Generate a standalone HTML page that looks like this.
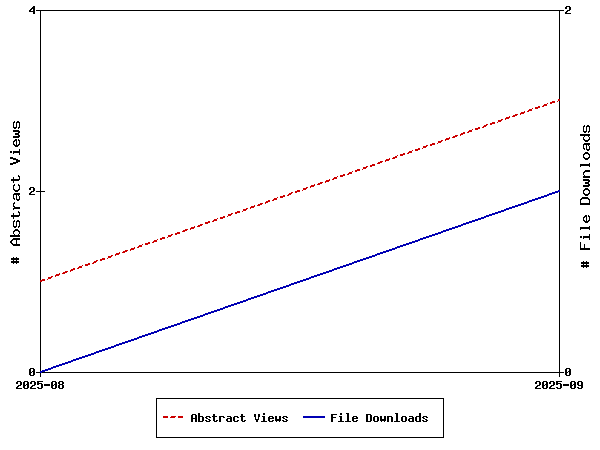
<!DOCTYPE html>
<html lang="en">
<head>
<meta charset="utf-8">
<title>Abstract Views / File Downloads</title>
<style>
  html, body { margin: 0; padding: 0; background: #ffffff; }
  body { width: 600px; height: 450px; overflow: hidden; font-family: "Liberation Mono", monospace; }
  svg { display: block; shape-rendering: crispEdges; }
</style>
</head>
<body>
<svg width="600" height="450" viewBox="0 0 600 450" role="img" aria-label="Line chart of Abstract Views and File Downloads from 2025-08 to 2025-09">
  <rect x="0" y="0" width="600" height="450" fill="#ffffff"/>
  <!-- plot frame, axes and tick marks -->
  <path fill="#000000" d="M36 10h528v1h-528zM40 11h1v180h-1zM559 11h1v361h-1zM36 191h9v1h-9zM40 192h1v180h-1zM36 372h528v1h-528zM40 373h1v4h-1zM559 373h1v4h-1z"/>
  <!-- series: Abstract Views (dashed) -->
  <path fill="#cc0000" d="M558 99h2v2h-2zM552 101h3v1h-3zM557 101h1v1h-1zM550 102h5v1h-5zM547 103h1v1h-1zM550 103h2v1h-2zM544 104h3v1h-3zM543 105h4v1h-4zM538 106h2v1h-2zM542 106h2v1h-2zM535 107h5v1h-5zM532 108h1v1h-1zM535 108h3v1h-3zM529 109h3v1h-3zM528 110h4v1h-4zM524 111h1v1h-1zM527 111h2v1h-2zM521 112h4v1h-4zM520 113h4v1h-4zM515 114h3v1h-3zM520 114h1v1h-1zM513 115h4v1h-4zM509 116h1v1h-1zM512 116h3v1h-3zM506 117h4v1h-4zM505 118h4v1h-4zM501 119h2v1h-2zM505 119h1v1h-1zM498 120h4v1h-4zM498 121h3v1h-3zM492 122h3v1h-3zM497 122h1v1h-1zM490 123h5v1h-5zM486 124h2v1h-2zM490 124h2v1h-2zM484 125h3v1h-3zM483 126h3v1h-3zM478 127h2v1h-2zM482 127h2v1h-2zM475 128h5v1h-5zM472 129h1v1h-1zM475 129h3v1h-3zM469 130h3v1h-3zM468 131h4v1h-4zM463 132h2v1h-2zM467 132h2v1h-2zM461 133h4v1h-4zM460 134h3v1h-3zM455 135h3v1h-3zM460 135h1v1h-1zM453 136h4v1h-4zM449 137h1v1h-1zM452 137h3v1h-3zM446 138h4v1h-4zM445 139h4v1h-4zM441 140h2v1h-2zM445 140h1v1h-1zM438 141h4v1h-4zM438 142h3v1h-3zM432 143h3v1h-3zM437 143h1v1h-1zM430 144h5v1h-5zM426 145h2v1h-2zM430 145h2v1h-2zM423 146h4v1h-4zM423 147h3v1h-3zM418 148h2v1h-2zM422 148h1v1h-1zM415 149h5v1h-5zM412 150h1v1h-1zM415 150h3v1h-3zM409 151h3v1h-3zM408 152h4v1h-4zM403 153h2v1h-2zM407 153h2v1h-2zM400 154h5v1h-5zM397 155h1v1h-1zM400 155h3v1h-3zM395 156h2v1h-2zM393 157h4v1h-4zM389 158h1v1h-1zM392 158h3v1h-3zM386 159h4v1h-4zM385 160h4v1h-4zM380 161h3v1h-3zM385 161h1v1h-1zM378 162h4v1h-4zM377 163h3v1h-3zM372 164h3v1h-3zM370 165h5v1h-5zM366 166h2v1h-2zM370 166h2v1h-2zM363 167h4v1h-4zM363 168h3v1h-3zM357 169h3v1h-3zM362 169h1v1h-1zM355 170h5v1h-5zM352 171h1v1h-1zM355 171h2v1h-2zM349 172h3v1h-3zM348 173h4v1h-4zM343 174h2v1h-2zM347 174h2v1h-2zM340 175h5v1h-5zM337 176h1v1h-1zM340 176h3v1h-3zM334 177h3v1h-3zM333 178h4v1h-4zM329 179h1v1h-1zM332 179h2v1h-2zM326 180h4v1h-4zM325 181h4v1h-4zM320 182h3v1h-3zM325 182h1v1h-1zM318 183h4v1h-4zM314 184h1v1h-1zM317 184h3v1h-3zM311 185h4v1h-4zM310 186h4v1h-4zM306 187h2v1h-2zM310 187h1v1h-1zM303 188h4v1h-4zM303 189h3v1h-3zM297 190h3v1h-3zM302 190h1v1h-1zM295 191h5v1h-5zM291 192h2v1h-2zM295 192h2v1h-2zM289 193h3v1h-3zM288 194h3v1h-3zM283 195h2v1h-2zM287 195h2v1h-2zM280 196h5v1h-5zM277 197h1v1h-1zM280 197h3v1h-3zM274 198h3v1h-3zM273 199h4v1h-4zM268 200h2v1h-2zM272 200h2v1h-2zM266 201h4v1h-4zM265 202h3v1h-3zM260 203h3v1h-3zM265 203h1v1h-1zM258 204h4v1h-4zM254 205h1v1h-1zM257 205h3v1h-3zM251 206h4v1h-4zM250 207h4v1h-4zM246 208h2v1h-2zM250 208h1v1h-1zM243 209h4v1h-4zM243 210h3v1h-3zM237 211h3v1h-3zM242 211h1v1h-1zM235 212h5v1h-5zM231 213h2v1h-2zM235 213h2v1h-2zM228 214h4v1h-4zM228 215h3v1h-3zM223 216h2v1h-2zM227 216h1v1h-1zM220 217h5v1h-5zM217 218h1v1h-1zM220 218h3v1h-3zM214 219h3v1h-3zM213 220h4v1h-4zM208 221h2v1h-2zM212 221h2v1h-2zM205 222h5v1h-5zM205 223h3v1h-3zM200 224h3v1h-3zM198 225h4v1h-4zM194 226h1v1h-1zM197 226h3v1h-3zM191 227h4v1h-4zM190 228h4v1h-4zM185 229h3v1h-3zM190 229h1v1h-1zM183 230h4v1h-4zM182 231h3v1h-3zM177 232h3v1h-3zM175 233h5v1h-5zM171 234h2v1h-2zM175 234h2v1h-2zM168 235h4v1h-4zM168 236h3v1h-3zM162 237h3v1h-3zM167 237h1v1h-1zM160 238h5v1h-5zM157 239h1v1h-1zM160 239h2v1h-2zM154 240h3v1h-3zM153 241h4v1h-4zM148 242h2v1h-2zM152 242h2v1h-2zM145 243h5v1h-5zM142 244h1v1h-1zM145 244h3v1h-3zM139 245h3v1h-3zM138 246h4v1h-4zM134 247h1v1h-1zM137 247h2v1h-2zM131 248h4v1h-4zM130 249h4v1h-4zM125 250h3v1h-3zM130 250h1v1h-1zM123 251h4v1h-4zM119 252h1v1h-1zM122 252h3v1h-3zM116 253h4v1h-4zM115 254h4v1h-4zM111 255h2v1h-2zM115 255h1v1h-1zM108 256h4v1h-4zM108 257h3v1h-3zM102 258h3v1h-3zM107 258h1v1h-1zM100 259h5v1h-5zM96 260h2v1h-2zM100 260h2v1h-2zM94 261h3v1h-3zM93 262h3v1h-3zM88 263h2v1h-2zM92 263h2v1h-2zM85 264h5v1h-5zM82 265h1v1h-1zM85 265h3v1h-3zM79 266h3v1h-3zM78 267h4v1h-4zM73 268h2v1h-2zM77 268h2v1h-2zM71 269h4v1h-4zM70 270h3v1h-3zM65 271h3v1h-3zM70 271h1v1h-1zM63 272h4v1h-4zM59 273h1v1h-1zM62 273h3v1h-3zM56 274h4v1h-4zM55 275h4v1h-4zM51 276h2v1h-2zM55 276h1v1h-1zM48 277h4v1h-4zM48 278h3v1h-3zM42 279h3v1h-3zM47 279h1v1h-1zM40 280h5v1h-5zM40 281h2v1h-2z"/>
  <!-- series: File Downloads -->
  <path fill="#0000b4" d="M558 190h2v1h-2zM555 191h5v1h-5zM552 192h6v1h-6zM549 193h6v1h-6zM547 194h5v1h-5zM544 195h5v1h-5zM541 196h6v1h-6zM538 197h6v1h-6zM535 198h6v1h-6zM532 199h6v1h-6zM529 200h6v1h-6zM527 201h5v1h-5zM524 202h5v1h-5zM521 203h6v1h-6zM518 204h6v1h-6zM515 205h6v1h-6zM512 206h6v1h-6zM509 207h6v1h-6zM506 208h6v1h-6zM504 209h5v1h-5zM501 210h5v1h-5zM498 211h6v1h-6zM495 212h6v1h-6zM492 213h6v1h-6zM489 214h6v1h-6zM486 215h6v1h-6zM484 216h5v1h-5zM481 217h5v1h-5zM478 218h6v1h-6zM475 219h6v1h-6zM472 220h6v1h-6zM469 221h6v1h-6zM466 222h6v1h-6zM463 223h6v1h-6zM461 224h5v1h-5zM458 225h5v1h-5zM455 226h6v1h-6zM452 227h6v1h-6zM449 228h6v1h-6zM446 229h6v1h-6zM443 230h6v1h-6zM441 231h5v1h-5zM438 232h5v1h-5zM435 233h6v1h-6zM432 234h6v1h-6zM429 235h6v1h-6zM426 236h6v1h-6zM423 237h6v1h-6zM420 238h6v1h-6zM418 239h5v1h-5zM415 240h5v1h-5zM412 241h6v1h-6zM409 242h6v1h-6zM406 243h6v1h-6zM403 244h6v1h-6zM400 245h6v1h-6zM397 246h6v1h-6zM395 247h5v1h-5zM392 248h5v1h-5zM389 249h6v1h-6zM386 250h6v1h-6zM383 251h6v1h-6zM380 252h6v1h-6zM377 253h6v1h-6zM375 254h5v1h-5zM372 255h5v1h-5zM369 256h6v1h-6zM366 257h6v1h-6zM363 258h6v1h-6zM360 259h6v1h-6zM357 260h6v1h-6zM354 261h6v1h-6zM352 262h5v1h-5zM349 263h5v1h-5zM346 264h6v1h-6zM343 265h6v1h-6zM340 266h6v1h-6zM337 267h6v1h-6zM334 268h6v1h-6zM332 269h5v1h-5zM329 270h5v1h-5zM326 271h6v1h-6zM323 272h6v1h-6zM320 273h6v1h-6zM317 274h6v1h-6zM314 275h6v1h-6zM311 276h6v1h-6zM309 277h5v1h-5zM306 278h5v1h-5zM303 279h6v1h-6zM300 280h6v1h-6zM297 281h6v1h-6zM294 282h6v1h-6zM291 283h6v1h-6zM289 284h5v1h-5zM286 285h5v1h-5zM283 286h6v1h-6zM280 287h6v1h-6zM277 288h6v1h-6zM274 289h6v1h-6zM271 290h6v1h-6zM268 291h6v1h-6zM266 292h5v1h-5zM263 293h5v1h-5zM260 294h6v1h-6zM257 295h6v1h-6zM254 296h6v1h-6zM251 297h6v1h-6zM248 298h6v1h-6zM246 299h5v1h-5zM243 300h5v1h-5zM240 301h6v1h-6zM237 302h6v1h-6zM234 303h6v1h-6zM231 304h6v1h-6zM228 305h6v1h-6zM225 306h6v1h-6zM223 307h5v1h-5zM220 308h5v1h-5zM217 309h6v1h-6zM214 310h6v1h-6zM211 311h6v1h-6zM208 312h6v1h-6zM205 313h6v1h-6zM203 314h5v1h-5zM200 315h5v1h-5zM197 316h6v1h-6zM194 317h6v1h-6zM191 318h6v1h-6zM188 319h6v1h-6zM185 320h6v1h-6zM182 321h6v1h-6zM180 322h5v1h-5zM177 323h5v1h-5zM174 324h6v1h-6zM171 325h6v1h-6zM168 326h6v1h-6zM165 327h6v1h-6zM162 328h6v1h-6zM159 329h6v1h-6zM157 330h5v1h-5zM154 331h5v1h-5zM151 332h6v1h-6zM148 333h6v1h-6zM145 334h6v1h-6zM142 335h6v1h-6zM139 336h6v1h-6zM137 337h5v1h-5zM134 338h5v1h-5zM131 339h6v1h-6zM128 340h6v1h-6zM125 341h6v1h-6zM122 342h6v1h-6zM119 343h6v1h-6zM116 344h6v1h-6zM114 345h5v1h-5zM111 346h5v1h-5zM108 347h6v1h-6zM105 348h6v1h-6zM102 349h6v1h-6zM99 350h6v1h-6zM96 351h6v1h-6zM94 352h5v1h-5zM91 353h5v1h-5zM88 354h6v1h-6zM85 355h6v1h-6zM82 356h6v1h-6zM79 357h6v1h-6zM76 358h6v1h-6zM73 359h6v1h-6zM71 360h5v1h-5zM68 361h5v1h-5zM65 362h6v1h-6zM62 363h6v1h-6zM59 364h6v1h-6zM56 365h6v1h-6zM53 366h6v1h-6zM51 367h5v1h-5zM48 368h5v1h-5zM45 369h6v1h-6zM42 370h6v1h-6zM40 371h5v1h-5zM40 372h2v1h-2z"/>
  <!-- tick labels: 4 2 0 / 2 0 / 2025-08 2025-09 -->
  <path fill="#000000" d="M33 6h2v1h-2zM566 6h4v1h-4zM32 7h3v1h-3zM565 7h2v2h-2zM569 7h2v3h-2zM31 8h4v1h-4zM30 9h2v1h-2zM33 9h2v2h-2zM29 10h2v1h-2zM567 10h3v1h-3zM29 11h6v1h-6zM566 11h2v1h-2zM33 12h2v2h-2zM565 12h2v1h-2zM565 13h6v1h-6zM30 187h4v1h-4zM29 188h2v2h-2zM33 188h2v3h-2zM31 191h3v1h-3zM30 192h2v1h-2zM29 193h2v1h-2zM29 194h6v1h-6zM30 368h4v1h-4zM566 368h4v1h-4zM29 369h2v3h-2zM33 369h2v2h-2zM565 369h2v3h-2zM569 369h2v2h-2zM32 371h3v1h-3zM568 371h3v1h-3zM29 372h3v1h-3zM33 372h2v3h-2zM565 372h3v1h-3zM569 372h2v3h-2zM29 373h2v2h-2zM565 373h2v2h-2zM30 375h4v1h-4zM566 375h4v1h-4zM17 381h4v1h-4zM24 381h4v1h-4zM31 381h4v1h-4zM37 381h6v1h-6zM52 381h4v1h-4zM59 381h4v1h-4zM536 381h4v1h-4zM543 381h4v1h-4zM550 381h4v1h-4zM556 381h6v1h-6zM571 381h4v1h-4zM578 381h4v1h-4zM16 382h2v2h-2zM20 382h2v3h-2zM23 382h2v3h-2zM27 382h2v2h-2zM30 382h2v2h-2zM34 382h2v3h-2zM37 382h2v1h-2zM51 382h2v3h-2zM55 382h2v2h-2zM58 382h2v2h-2zM62 382h2v2h-2zM535 382h2v2h-2zM539 382h2v3h-2zM542 382h2v3h-2zM546 382h2v2h-2zM549 382h2v2h-2zM553 382h2v3h-2zM556 382h2v1h-2zM570 382h2v3h-2zM574 382h2v2h-2zM577 382h2v3h-2zM581 382h2v3h-2zM37 383h5v1h-5zM556 383h5v1h-5zM26 384h3v1h-3zM37 384h2v1h-2zM41 384h2v4h-2zM44 384h6v2h-6zM54 384h3v1h-3zM59 384h4v1h-4zM545 384h3v1h-3zM556 384h2v1h-2zM560 384h2v4h-2zM563 384h6v2h-6zM573 384h3v1h-3zM18 385h3v1h-3zM23 385h3v1h-3zM27 385h2v3h-2zM32 385h3v1h-3zM51 385h3v1h-3zM55 385h2v3h-2zM58 385h2v3h-2zM62 385h2v3h-2zM537 385h3v1h-3zM542 385h3v1h-3zM546 385h2v3h-2zM551 385h3v1h-3zM570 385h3v1h-3zM574 385h2v3h-2zM578 385h5v1h-5zM17 386h2v1h-2zM23 386h2v2h-2zM31 386h2v1h-2zM51 386h2v2h-2zM536 386h2v1h-2zM542 386h2v2h-2zM550 386h2v1h-2zM570 386h2v2h-2zM581 386h2v2h-2zM16 387h2v1h-2zM30 387h2v1h-2zM37 387h2v1h-2zM535 387h2v1h-2zM549 387h2v1h-2zM556 387h2v1h-2zM577 387h2v1h-2zM16 388h6v1h-6zM24 388h4v1h-4zM30 388h6v1h-6zM38 388h4v1h-4zM52 388h4v1h-4zM59 388h4v1h-4zM535 388h6v1h-6zM543 388h4v1h-4zM549 388h6v1h-6zM557 388h4v1h-4zM571 388h4v1h-4zM578 388h4v1h-4z"/>
  <!-- axis titles: "# Abstract Views" (left), "# File Downloads" (right) -->
  <path fill="#000000" d="M14 121h1v1h-1zM17 121h2v1h-2zM13 122h2v1h-2zM16 122h4v1h-4zM13 123h1v4h-1zM16 123h1v4h-1zM19 123h1v4h-1zM584 125h1v1h-1zM587 125h2v1h-2zM583 126h2v1h-2zM586 126h4v1h-4zM13 127h4v1h-4zM18 127h2v1h-2zM583 127h1v4h-1zM586 127h1v4h-1zM589 127h1v4h-1zM14 128h2v1h-2zM18 128h1v1h-1zM13 130h6v1h-6zM13 131h7v1h-7zM583 131h4v1h-4zM588 131h2v1h-2zM18 132h2v1h-2zM584 132h2v1h-2zM588 132h1v1h-1zM15 133h4v2h-4zM580 134h10v2h-10zM18 135h2v1h-2zM13 136h7v1h-7zM584 136h1v1h-1zM588 136h1v1h-1zM13 137h6v1h-6zM583 137h1v2h-1zM589 137h1v2h-1zM15 139h2v1h-2zM18 139h1v1h-1zM583 139h2v1h-2zM588 139h2v1h-2zM14 140h3v1h-3zM18 140h2v1h-2zM584 140h5v1h-5zM13 141h2v1h-2zM16 141h1v4h-1zM19 141h1v3h-1zM585 141h3v1h-3zM13 142h1v2h-1zM584 143h6v1h-6zM13 144h2v1h-2zM18 144h2v1h-2zM583 144h7v1h-7zM14 145h5v1h-5zM583 145h1v3h-1zM586 145h1v4h-1zM588 145h1v1h-1zM15 146h3v1h-3zM589 146h1v3h-1zM583 148h2v1h-2zM19 149h1v2h-1zM584 149h1v1h-1zM586 149h4v1h-4zM587 150h2v1h-2zM10 151h2v2h-2zM13 151h7v2h-7zM585 152h3v1h-3zM13 153h1v1h-1zM19 153h1v2h-1zM584 153h5v1h-5zM583 154h2v1h-2zM588 154h2v1h-2zM583 155h1v2h-1zM589 155h1v2h-1zM10 157h3v1h-3zM583 157h2v1h-2zM588 157h2v1h-2zM10 158h6v1h-6zM584 158h5v1h-5zM13 159h5v1h-5zM585 159h3v1h-3zM16 160h4v2h-4zM13 162h5v1h-5zM10 163h6v1h-6zM589 163h1v1h-1zM10 164h3v1h-3zM580 164h10v2h-10zM580 166h1v1h-1zM589 166h1v1h-1zM585 170h5v1h-5zM584 171h6v1h-6zM583 172h2v1h-2zM583 173h1v2h-1zM18 175h1v1h-1zM584 175h1v1h-1zM18 176h2v1h-2zM583 176h7v2h-7zM13 177h1v2h-1zM19 177h1v2h-1zM11 179h9v1h-9zM583 179h6v1h-6zM11 180h8v1h-8zM583 180h7v1h-7zM13 181h1v2h-1zM588 181h2v1h-2zM585 182h4v2h-4zM14 184h1v1h-1zM18 184h1v1h-1zM588 184h2v1h-2zM13 185h2v1h-2zM18 185h2v1h-2zM583 185h7v1h-7zM13 186h1v3h-1zM19 186h1v3h-1zM583 186h6v1h-6zM585 188h3v1h-3zM13 189h2v1h-2zM18 189h2v1h-2zM584 189h5v1h-5zM14 190h5v1h-5zM583 190h2v1h-2zM588 190h2v1h-2zM15 191h3v1h-3zM583 191h1v2h-1zM589 191h1v2h-1zM14 193h6v1h-6zM583 193h2v1h-2zM588 193h2v1h-2zM13 194h7v1h-7zM584 194h5v1h-5zM13 195h1v3h-1zM16 195h1v4h-1zM18 195h1v1h-1zM585 195h3v1h-3zM19 196h1v3h-1zM582 197h6v1h-6zM13 198h2v1h-2zM581 198h8v1h-8zM14 199h1v1h-1zM16 199h4v1h-4zM580 199h2v1h-2zM588 199h2v1h-2zM17 200h2v1h-2zM580 200h1v3h-1zM589 200h1v3h-1zM14 202h1v1h-1zM13 203h2v1h-2zM580 203h10v2h-10zM13 204h1v2h-1zM13 206h2v1h-2zM14 207h6v1h-6zM13 208h7v1h-7zM13 209h1v1h-1zM18 211h1v1h-1zM18 212h2v1h-2zM13 213h1v2h-1zM19 213h1v2h-1zM11 215h9v1h-9zM585 215h2v1h-2zM588 215h1v1h-1zM11 216h8v1h-8zM584 216h3v1h-3zM588 216h2v1h-2zM13 217h1v2h-1zM583 217h2v1h-2zM586 217h1v4h-1zM589 217h1v3h-1zM583 218h1v2h-1zM14 220h1v1h-1zM17 220h2v1h-2zM583 220h2v1h-2zM588 220h2v1h-2zM13 221h2v1h-2zM16 221h4v1h-4zM584 221h5v1h-5zM13 222h1v4h-1zM16 222h1v4h-1zM19 222h1v4h-1zM585 222h3v1h-3zM13 226h4v1h-4zM18 226h2v1h-2zM589 226h1v1h-1zM14 227h2v1h-2zM18 227h1v1h-1zM580 227h10v2h-10zM15 229h3v1h-3zM580 229h1v1h-1zM589 229h1v1h-1zM14 230h5v1h-5zM13 231h2v1h-2zM18 231h2v1h-2zM13 232h1v2h-1zM19 232h1v2h-1zM14 234h1v1h-1zM18 234h1v1h-1zM589 234h1v2h-1zM10 235h10v2h-10zM580 236h2v2h-2zM583 236h7v2h-7zM13 238h7v1h-7zM583 238h1v1h-1zM589 238h1v2h-1zM12 239h8v1h-8zM11 240h2v1h-2zM16 240h1v4h-1zM10 241h2v2h-2zM580 242h1v6h-1zM11 243h2v1h-2zM12 244h8v1h-8zM584 244h1v4h-1zM13 245h7v1h-7zM580 248h10v2h-10zM13 257h1v1h-1zM16 257h1v1h-1zM11 258h8v2h-8zM13 260h1v1h-1zM16 260h1v1h-1zM11 261h8v2h-8zM583 261h1v1h-1zM586 261h1v1h-1zM581 262h8v2h-8zM13 263h1v1h-1zM16 263h1v1h-1zM583 264h1v1h-1zM586 264h1v1h-1zM581 265h8v2h-8zM583 267h1v1h-1zM586 267h1v1h-1z"/>
  <!-- legend box and labels: Abstract Views, File Downloads -->
  <path fill="#000000" d="M156 398h288v1h-288zM156 399h1v38h-1zM443 399h1v38h-1zM198 413h2v3h-2zM263 413h2v2h-2zM340 413h2v2h-2zM346 413h3v1h-3zM395 413h3v1h-3zM419 413h2v3h-2zM192 414h4v1h-4zM213 414h2v2h-2zM241 414h2v2h-2zM254 414h2v3h-2zM258 414h2v3h-2zM331 414h6v1h-6zM347 414h2v7h-2zM366 414h5v1h-5zM396 414h2v7h-2zM191 415h2v3h-2zM195 415h2v3h-2zM331 415h2v2h-2zM366 415h2v6h-2zM370 415h2v6h-2zM198 416h5v1h-5zM206 416h4v1h-4zM212 416h5v1h-5zM219 416h5v1h-5zM227 416h4v1h-4zM234 416h4v1h-4zM240 416h5v1h-5zM262 416h3v1h-3zM269 416h4v1h-4zM275 416h2v3h-2zM279 416h2v3h-2zM283 416h4v1h-4zM339 416h3v1h-3zM353 416h4v1h-4zM374 416h4v1h-4zM380 416h2v3h-2zM384 416h2v3h-2zM387 416h5v1h-5zM402 416h4v1h-4zM409 416h4v1h-4zM416 416h5v1h-5zM423 416h4v1h-4zM198 417h2v4h-2zM202 417h2v4h-2zM205 417h2v1h-2zM209 417h2v1h-2zM213 417h2v4h-2zM219 417h2v5h-2zM223 417h2v1h-2zM230 417h2v1h-2zM233 417h2v4h-2zM237 417h2v1h-2zM241 417h2v4h-2zM255 417h1v2h-1zM258 417h1v2h-1zM263 417h2v4h-2zM268 417h2v1h-2zM272 417h2v1h-2zM282 417h2v1h-2zM286 417h2v1h-2zM331 417h5v1h-5zM340 417h2v4h-2zM352 417h2v1h-2zM356 417h2v1h-2zM373 417h2v4h-2zM377 417h2v4h-2zM387 417h2v5h-2zM391 417h2v5h-2zM401 417h2v4h-2zM405 417h2v4h-2zM412 417h2v1h-2zM415 417h2v4h-2zM419 417h2v4h-2zM422 417h2v1h-2zM426 417h2v1h-2zM191 418h6v1h-6zM206 418h2v1h-2zM227 418h5v1h-5zM268 418h6v1h-6zM283 418h2v1h-2zM331 418h2v4h-2zM352 418h6v1h-6zM409 418h5v1h-5zM423 418h2v1h-2zM191 419h2v3h-2zM195 419h2v3h-2zM208 419h2v1h-2zM226 419h2v2h-2zM230 419h2v2h-2zM255 419h4v1h-4zM268 419h2v2h-2zM275 419h6v2h-6zM285 419h2v1h-2zM352 419h2v2h-2zM380 419h6v2h-6zM408 419h2v2h-2zM412 419h2v2h-2zM425 419h2v1h-2zM205 420h2v1h-2zM209 420h2v1h-2zM216 420h2v1h-2zM237 420h2v1h-2zM244 420h2v1h-2zM256 420h2v2h-2zM272 420h2v1h-2zM282 420h2v1h-2zM286 420h2v1h-2zM356 420h2v1h-2zM422 420h2v1h-2zM426 420h2v1h-2zM198 421h5v1h-5zM206 421h4v1h-4zM214 421h3v1h-3zM227 421h5v1h-5zM234 421h4v1h-4zM242 421h3v1h-3zM261 421h6v1h-6zM269 421h4v1h-4zM276 421h1v1h-1zM279 421h1v1h-1zM283 421h4v1h-4zM338 421h6v1h-6zM345 421h6v1h-6zM353 421h4v1h-4zM366 421h5v1h-5zM374 421h4v1h-4zM381 421h1v1h-1zM384 421h1v1h-1zM394 421h6v1h-6zM402 421h4v1h-4zM409 421h5v1h-5zM416 421h5v1h-5zM423 421h4v1h-4zM156 437h288v1h-288z"/>
  <!-- legend sample: Abstract Views -->
  <path fill="#cc0000" d="M163 416h5v2h-5zM171 416h5v1h-5zM178 416h5v2h-5zM170 417h5v1h-5z"/>
  <!-- legend sample: File Downloads -->
  <path fill="#0000b4" d="M303 416h22v2h-22z"/>
</svg>
</body>
</html>
